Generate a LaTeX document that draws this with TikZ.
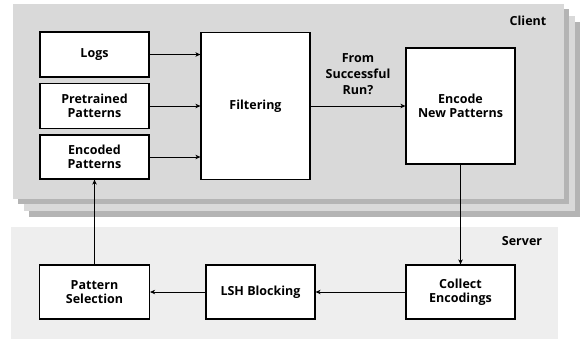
\documentclass[tikz,border=0pt]{standalone}
\usepackage{fontspec}
\setmainfont{Open Sans}
\usetikzlibrary{arrows.meta}
\definecolor{clientgray}{HTML}{D9D9D9}
\definecolor{shadowgray}{HTML}{B4B4B4}
\definecolor{servergray}{HTML}{EEEEEE}
\begin{document}
\begin{tikzpicture}[x = 1pt, y = -1pt,
        box/.style = {draw, line width = 1.2pt, fill = white, align = center,
            font = \fontsize{12.5}{14.5}\selectfont\bfseries, inner sep = 0pt},
        flow/.style = {-{Stealth[length = 5pt, width = 4.5pt, inset = 1.5pt]}, line width = 0.9pt},
        tag/.style = {font = \fontsize{12.5}{15}\selectfont\bfseries}]
    \useasboundingbox (0, 0) rectangle (585, 341);
    % Client cards, back to front
    \fill [shadowgray] (29, 22) rectangle (580, 217);
    \fill [clientgray] (24, 16) rectangle (575, 211);
    \fill [shadowgray] (18, 9) rectangle (569, 204);
    \fill [clientgray] (13, 4) rectangle (564, 199);
    % Server panel
    \fill [servergray] (11, 227) rectangle (558, 339);
    \node [tag] (client) at (528, 21) {Client};
    \node [tag] (server) at (522, 241) {Server};
    % Client boxes
    \node [box, minimum width = 109pt, minimum height = 45pt] (logs) at (94.5, 54.5) {Logs};
    \node [box, minimum width = 109pt, minimum height = 45pt] (pretrained) at (94.5, 106) {Pretrained\\Patterns};
    \node [box, minimum width = 109pt, minimum height = 44pt] (encoded) at (94.5, 157) {Encoded\\Patterns};
    \node [box, minimum width = 109pt, minimum height = 147pt] (filtering) at (255.5, 106) {Filtering};
    \node [box, minimum width = 109pt, minimum height = 116pt] (encode) at (460.5, 106) {Encode\\New Patterns};
    % Server boxes
    \node [box, minimum width = 110pt, minimum height = 54pt] (selection) at (94.5, 292) {Pattern\\Selection};
    \node [box, minimum width = 109pt, minimum height = 54pt] (lsh) at (260.5, 292) {LSH Blocking};
    \node [box, minimum width = 109pt, minimum height = 54pt] (collect) at (460.5, 292) {Collect\\Encodings};
    % Connectors
    \foreach \src in {logs, pretrained, encoded}
        \draw [flow] (\src.east) -- (\src.east -| filtering.west);
    \draw [flow] (filtering.east) -- (encode.west)
        node [midway, above = 8pt, align = center, font = \fontsize{12.5}{16}\selectfont\bfseries] (run) {From\\Successful\\Run?};
    \draw [flow] (encode.south) -- (collect.north);
    \draw [flow] (collect.west) -- (lsh.east);
    \draw [flow] (lsh.west) -- (selection.east);
    \draw [flow] (selection.north) -- (encoded.south);
\end{tikzpicture}
\end{document}
